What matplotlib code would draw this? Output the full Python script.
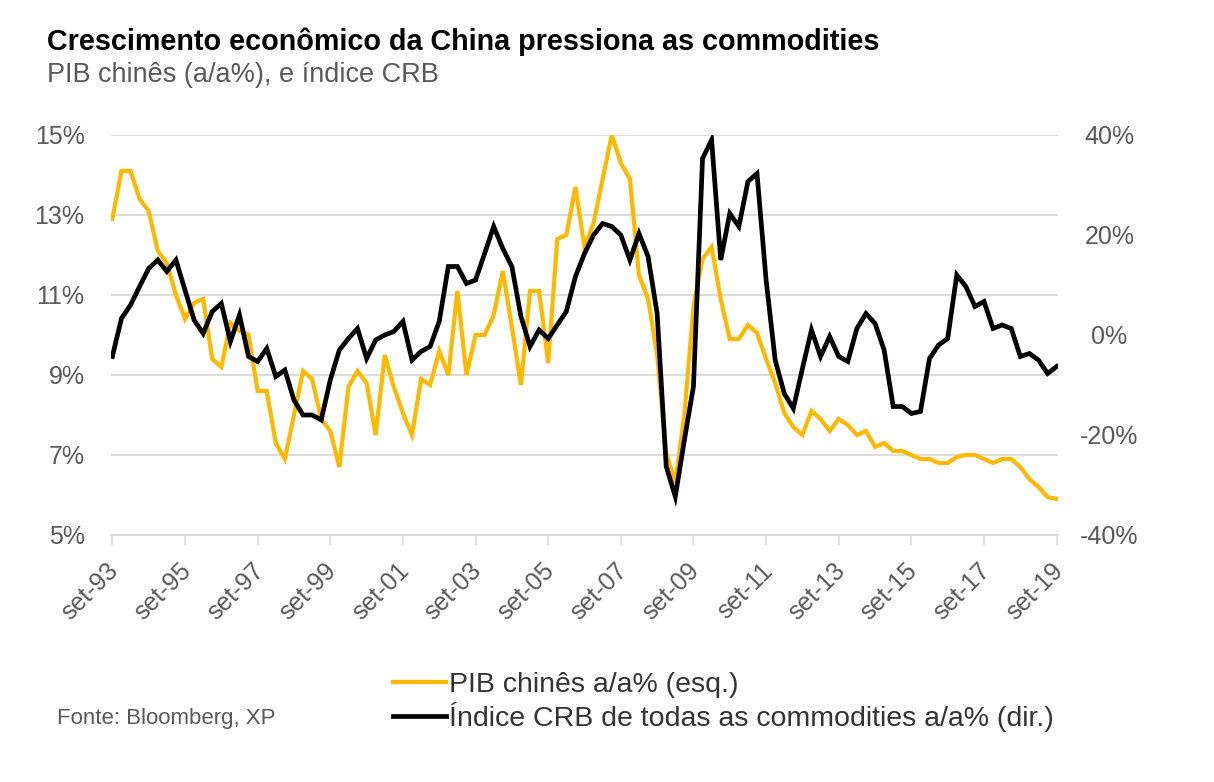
import matplotlib
matplotlib.use("Agg")
import matplotlib.pyplot as plt
from matplotlib.lines import Line2D
from matplotlib.transforms import ScaledTranslation

# ---------------- data ----------------
quarters = list(range(105))  # quarterly, set-93 .. set-19
tick_labels = ["set-93", "set-95", "set-97", "set-99", "set-01", "set-03", "set-05",
               "set-07", "set-09", "set-11", "set-13", "set-15", "set-17", "set-19"]

pib = [12.9, 14.1, 14.1, 13.4, 13.1, 12.1, 11.8, 11.0, 10.4, 10.8,
       10.9, 9.4, 9.2, 10.3, 10.1, 10.0, 8.6, 8.6, 7.3, 6.9,
       8.0, 9.1, 8.9, 7.9, 7.6, 6.7, 8.7, 9.1, 8.8, 7.5,
       9.5, 8.7, 8.05, 7.5, 8.9, 8.75, 9.6, 9.0, 11.1, 9.0,
       10.0, 10.0, 10.5, 11.6, 10.2, 8.75, 11.1, 11.1, 9.3, 12.4,
       12.5, 13.7, 12.2, 12.8, 13.9, 15.0, 14.3, 13.9, 11.5, 10.9,
       9.5, 7.05, 6.3, 8.0, 10.7, 11.9, 12.2, 10.9, 9.9, 9.9,
       10.25, 10.05, 9.4, 8.8, 8.05, 7.7, 7.5, 8.1, 7.9, 7.6,
       7.9, 7.75, 7.5, 7.6, 7.2, 7.3, 7.1, 7.1, 7.0, 6.9,
       6.9, 6.8, 6.8, 6.95, 7.0, 7.0, 6.9, 6.8, 6.9, 6.9,
       6.7, 6.4, 6.2, 5.95, 5.9]

crb = [-4.3, 3.3, 6.0, 9.7, 13.3, 15.0, 12.7, 15.0, 9.0, 3.0,
       0.3, 4.7, 6.3, -1.3, 4.0, -4.3, -5.3, -2.7, -8.3, -7.0,
       -13.0, -16.0, -16.0, -17.0, -9.0, -3.0, -0.7, 1.3, -4.7, -1.0,
       0.0, 0.7, 2.7, -5.0, -3.3, -2.3, 2.7, 13.7, 13.7, 10.3,
       11.0, 16.3, 21.7, 17.3, 13.7, 3.7, -2.3, 1.0, -0.7, 2.0,
       4.7, 11.7, 16.3, 20.0, 22.3, 21.7, 20.0, 15.0, 20.3, 15.7,
       4.3, -26.3, -32.3, -21.0, -10.3, 35.3, 39.0, 15.0, 24.3, 21.7,
       30.7, 32.3, 11.0, -5.0, -11.7, -14.7, -6.7, 1.0, -4.3, -0.3,
       -4.3, -5.3, 1.3, 4.3, 2.3, -3.0, -14.3, -14.3, -15.7, -15.3,
       -4.7, -2.0, -0.7, 12.0, 9.7, 5.7, 6.7, 1.3, 2.0, 1.3,
       -4.3, -3.7, -5.0, -7.7, -6.3]

left_ticks = [5, 7, 9, 11, 13, 15]
right_ticks = [-40, -20, 0, 20, 40]

# ---------------- style ----------------
plt.rcParams['font.family'] = ['Liberation Sans', 'DejaVu Sans']
YELLOW = "#FFB800"
GRAY_TXT = "#595959"
GRID = "#D9D9D9"

W, H = 1214, 782
fig = plt.figure(figsize=(W / 100, H / 100), dpi=100)
ax = fig.add_axes([111 / W, 1 - 535 / H, (1058 - 111) / W, (535 - 135) / H])
ax2 = ax.twinx()

ax.plot(quarters, pib, color=YELLOW, lw=3.0, solid_joinstyle='miter', zorder=3)
ax2.plot(quarters, crb, color="black", lw=3.4, solid_joinstyle='miter', zorder=3)

ax.set_xlim(-0.15, 104.15)
ax.set_ylim(5, 15)
ax2.set_ylim(-40, 40)

ax.set_yticks(left_ticks)
ax.set_yticklabels([f"{v}%" for v in left_ticks])
ax2.set_yticks(right_ticks)
ax2.set_yticklabels([f"{v}%" for v in right_ticks])

ax.yaxis.grid(True, color=GRID, lw=1.3)
ax.set_axisbelow(True)

for a in (ax, ax2):
    for s in a.spines.values():
        s.set_visible(False)
ax.spines['bottom'].set_visible(True)
ax.spines['bottom'].set_color(GRID)
ax.spines['bottom'].set_linewidth(1.3)

ax.tick_params(axis='y', length=0, pad=19, labelsize=18, labelcolor=GRAY_TXT)
ax2.tick_params(axis='y', length=0, pad=37, labelsize=18, labelcolor=GRAY_TXT)
for lab in ax2.get_yticklabels():
    lab.set_horizontalalignment('center')

ax.set_xticks(quarters[::8])
ax.set_xticklabels(tick_labels)
ax.tick_params(axis='x', length=7, width=1.1, color=GRID, pad=10,
               labelsize=18, labelcolor=GRAY_TXT)
off = ScaledTranslation(-0.06, 0, fig.dpi_scale_trans)
for lab in ax.get_xticklabels():
    lab.set_rotation(45)
    lab.set_ha('right')
    lab.set_rotation_mode('anchor')
    lab.set_transform(lab.get_transform() + off)

# ---------------- texts ----------------
fig.text(47 / W, 1 - 50 / H, "Crescimento econômico da China pressiona as commodities",
         fontsize=20.7, fontweight='bold', color="black", va='baseline', ha='left')
fig.text(47 / W, 1 - 82 / H, "PIB chinês (a/a%), e índice CRB",
         fontsize=19.5, color=GRAY_TXT, va='baseline', ha='left')
fig.text(57 / W, 1 - 724 / H, "Fonte: Bloomberg, XP",
         fontsize=16, color=GRAY_TXT, va='baseline', ha='left')

handles = [Line2D([], [], color=YELLOW, lw=3.0),
           Line2D([], [], color="black", lw=3.4)]
labels = ["PIB chinês a/a% (esq.)", "Índice CRB de todas as commodities a/a% (dir.)"]
fig.legend(handles, labels, loc='upper left', bbox_to_anchor=(393 / W, 1 - 672 / H),
           frameon=False, fontsize=20.5, handlelength=1.85, handletextpad=0.1,
           labelspacing=0.14, borderpad=0, borderaxespad=0, labelcolor="#333333")

fig.savefig("out.png", dpi=100)
